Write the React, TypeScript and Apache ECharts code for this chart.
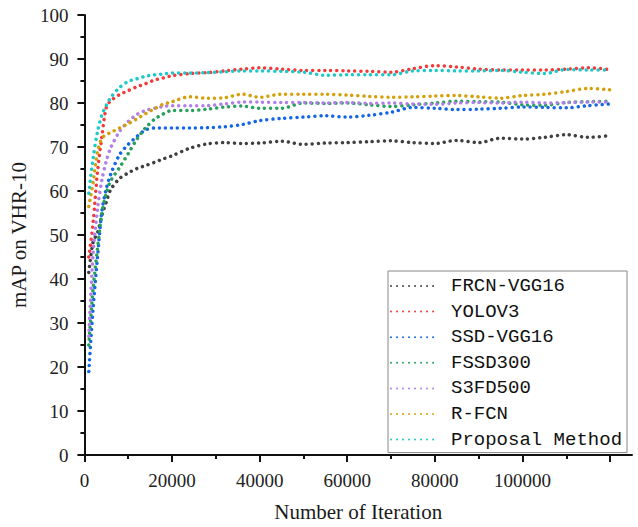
import React, { useEffect, useRef } from "react";
import * as echarts from "echarts";

const iterations = [1000, 2000, 3000, 4000, 5000, 6000, 8000, 10000, 12000, 14000, 16000, 18000, 20000, 24000, 28000, 32000, 36000, 40000, 45000, 50000, 55000, 60000, 65000, 70000, 75000, 80000, 85000, 90000, 95000, 100000, 105000, 110000, 115000, 120000];

const frcnVgg16 = [41.5, 48.5, 50.5, 54.5, 57.5, 60.3, 62.8, 64.1, 65.1, 65.8, 66.5, 67.3, 68.0, 69.7, 70.7, 71.0, 70.8, 70.9, 71.3, 70.6, 70.9, 71.0, 71.2, 71.4, 71.0, 70.8, 71.5, 71.0, 72.0, 71.8, 72.2, 72.8, 72.2, 72.6];
const yolov3 = [45, 53, 64.5, 72.5, 79.0, 80.5, 81.9, 82.8, 83.7, 84.4, 85.2, 85.7, 86.2, 86.7, 86.9, 87.3, 87.7, 88.0, 87.7, 87.4, 87.4, 87.3, 87.2, 87.0, 87.8, 88.5, 88.2, 87.7, 87.5, 87.5, 87.5, 87.7, 88.0, 87.6];
const ssdVgg16 = [19, 33.5, 45, 55.5, 60.5, 63.8, 68.2, 70.6, 72.4, 73.9, 74.3, 74.3, 74.3, 74.3, 74.4, 74.6, 75.1, 76.0, 76.5, 76.8, 77.1, 76.8, 77.2, 77.9, 79.0, 78.8, 78.5, 78.6, 78.8, 79.1, 79.0, 78.9, 79.4, 79.8];
const fssd300 = [25, 38, 47, 55, 59.5, 62.3, 65.3, 68.5, 71.8, 74.4, 76.3, 77.5, 78.3, 78.3, 78.6, 79.1, 79.3, 78.8, 78.8, 80.0, 79.9, 80.0, 79.6, 79.2, 79.6, 80.0, 80.4, 80.3, 80.2, 79.6, 79.5, 80.1, 80.3, 80.4];
const s3fd500 = [27, 46, 56, 62.5, 66.8, 69.8, 73.5, 75.8, 77.4, 78.3, 78.8, 79.2, 79.4, 79.4, 79.4, 79.8, 80.2, 80.2, 80.1, 80.1, 80.0, 80.1, 79.9, 80.0, 79.8, 79.7, 80.0, 80.1, 80.0, 80.2, 80.0, 80.1, 80.2, 80.2];
const rfcn = [56.5, 62, 69, 72, 72.8, 73.3, 74.3, 75.3, 76.4, 77.6, 78.7, 79.7, 80.3, 81.4, 81.1, 81.2, 82.0, 81.3, 82.0, 82.0, 82.0, 81.8, 81.5, 81.3, 81.4, 81.6, 81.7, 81.4, 81.1, 81.7, 82.0, 82.6, 83.3, 83.0];
const proposal = [59.5, 67.5, 73.5, 77.3, 79.5, 81.2, 83.5, 84.9, 85.5, 86.1, 86.4, 86.6, 86.8, 86.8, 86.9, 87.1, 87.3, 87.3, 87.2, 87.0, 86.3, 86.4, 86.4, 86.4, 87.3, 87.4, 87.3, 87.3, 87.4, 87.0, 86.7, 87.6, 87.5, 87.5];

const seriesNames = ["FRCN-VGG16", "YOLOV3", "SSD-VGG16", "FSSD300", "S3FD500", "R-FCN", "Proposal Method"];
const seriesValues = [frcnVgg16, yolov3, ssdVgg16, fssd300, s3fd500, rfcn, proposal];
const seriesColors = ["#404040", "#f23a3a", "#1566e6", "#26a05a", "#b07ee6", "#d4a00a", "#1cc8c8"];

const xTicks = [0, 20000, 40000, 60000, 80000, 100000, 120000];

const serif = "'Liberation Serif', 'Times New Roman', serif";

export default function App() {
  const ref = useRef<HTMLDivElement>(null);
  useEffect(() => {
    if (!ref.current) return;
    const chart = echarts.init(ref.current, null, { renderer: "svg" });
    chart.setOption({
      animation: false,
      backgroundColor: "#ffffff",
      grid: { left: 79, right: 6, top: 15, bottom: 67, containLabel: false },
      xAxis: {
        type: "value",
        min: 0,
        max: 125000,
        interval: 20000,
        name: "Number of Iteration",
        nameLocation: "middle",
        nameGap: 46,
        nameTextStyle: { fontFamily: serif, fontSize: 21, color: "#1a1a1a" },
        axisLine: { show: true, lineStyle: { color: "#111", width: 2 } },
        axisTick: { show: true, length: 7, lineStyle: { color: "#111", width: 2 }, customValues: xTicks },
        minorTick: { show: true, splitNumber: 2, length: 4, lineStyle: { color: "#111", width: 2 } },
        axisLabel: {
          fontFamily: serif,
          fontSize: 19,
          color: "#222",
          margin: 16,
          customValues: xTicks,
          showMaxLabel: false,
          formatter: (v: number) => String(v),
        },
        splitLine: { show: false },
      },
      yAxis: {
        type: "value",
        min: 0,
        max: 100,
        interval: 10,
        name: "mAP on VHR-10",
        nameLocation: "middle",
        nameGap: 45,
        nameTextStyle: { fontFamily: serif, fontSize: 21, color: "#1a1a1a" },
        axisLine: { show: true, lineStyle: { color: "#111", width: 2 } },
        axisTick: { show: true, length: 7, lineStyle: { color: "#111", width: 2 } },
        minorTick: { show: true, splitNumber: 2, length: 4, lineStyle: { color: "#111", width: 2 } },
        axisLabel: { fontFamily: serif, fontSize: 19, color: "#222", margin: 16, formatter: (v: number) => String(v) },
        splitLine: { show: false },
      },
      legend: {
        orient: "vertical",
        left: 388,
        top: 271,
        borderColor: "#888",
        borderWidth: 1,
        padding: [5, 5, 3, 2],
        itemWidth: 45,
        itemHeight: 14,
        itemGap: 5.6,
        itemStyle: { opacity: 0 },
        textStyle: { fontFamily: "'Liberation Mono', monospace", fontSize: 19, lineHeight: 20, color: "#111", padding: [0, 0, 0, 10] },
        data: seriesNames,
      },
      series: seriesNames.map((name, i) => ({
        name,
        type: "line",
        smooth: 0.3,
        symbol: "none",
        data: iterations.map((x, j) => [x, seriesValues[i][j]]),
        lineStyle: { color: seriesColors[i], width: 3.5, type: [0.01, 6], cap: "round" },
        itemStyle: { color: seriesColors[i] },
      })),
    });
    return () => chart.dispose();
  }, []);
  return <div ref={ref} style={{ position: "fixed", left: 0, top: 0, width: 638, height: 527 }} />;
}
